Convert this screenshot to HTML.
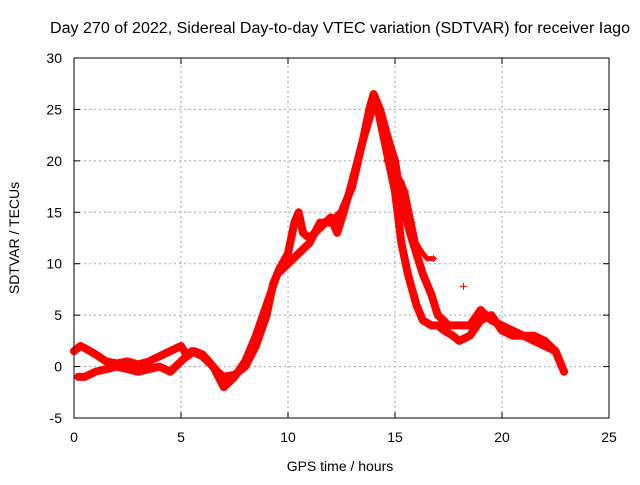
<!DOCTYPE html>
<html><head><meta charset="utf-8"><style>
body{margin:0;background:#fff;}
svg text{font-family:"Liberation Sans",sans-serif;font-size:14px;fill:#000;}
</style></head><body>
<svg id="chart" width="640" height="480" xmlns="http://www.w3.org/2000/svg">
<rect width="640" height="480" fill="#fff"/>
<text x="340" y="33" text-anchor="middle" textLength="580" lengthAdjust="spacingAndGlyphs" style="font-size:15.5px">Day 270 of 2022, Sidereal Day-to-day VTEC variation (SDTVAR) for receiver Iago</text>
<text x="340" y="471" text-anchor="middle">GPS time / hours</text>
<text transform="translate(19,238) rotate(-90)" text-anchor="middle">SDTVAR / TECUs</text>
<g id="grid"></g><g id="ticks"></g><g id="marks"></g>
<rect x="74" y="58" width="535" height="360" fill="none" stroke="#000" stroke-width="1"/>
</svg>
<script>
const xTicks=[0,5,10,15,20,25];
const yTicks=[-5,0,5,10,15,20,25,30];
const trackAX=[0,0.3,0.5,1,1.5,2,2.5,3,3.5,4,4.5,5,5.3,5.6,6,6.3,6.7,7,7.5,8,8.5,9,9.3,9.6,10,10.3,10.5,10.7,11,11.5,12,12.3,12.6,13,13.5,14,14.2,14.5,15,15.3,15.6,16,16.3,16.7,17,17.3,17.7,18,18.5,19,19.5,20,20.5,21,21.5,22,22.5,22.8];
const trackAY=[1.5,2,1.8,1.2,0.5,0.3,0.5,0.2,0.5,1,1.5,2,1,1.5,1.2,0.5,-0.5,-1,-0.8,0,2,5,8,9.5,11,14,15,13,12.5,13.5,14.5,13,15,18,22,25.5,25,22,17,12,9,6,4.5,4,4,3.5,3,2.5,3,4.5,5,3.5,3,3,2.5,2,1.5,0];
const trackBX=[0.2,0.5,1,2,3,4,4.5,5,5.5,6,6.5,7,7.5,8,8.5,9,9.5,10,10.5,11,11.5,12,12.5,13,13.5,13.8,14,14.3,14.7,15,15.3,15.7,16,16.3,16.7,17,17.5,18,18.5,19,19.5,20,20.5,21,21.5,22,22.5,22.9];
const trackBY=[-1,-1,-0.5,0,-0.5,0,-0.5,0.5,1.5,1,0,-2,-1,0.5,3,6,9,10,11,12,14,14,15,17.5,22,25,26.5,25,22,20,16,13,11,9,7,5,4,4,4,5.5,4.5,4,3.5,3,3,2.5,1.5,-0.5];
const trackCX=[14.6,15,15.3,15.5,15.8,16,16.3,16.5,16.8];
const trackCY=[20,19,18,17,14,12,11,10.5,10.5];
const isoX=[18.2];
const isoY=[7.8];
const X0=74,X1=609,Y0=418,Y1=58,XMIN=0,XMAX=25,YMIN=-5,YMAX=30;
function sx(v){return X0+(v-XMIN)/(XMAX-XMIN)*(X1-X0);}
function sy(v){return Y0-(v-YMIN)/(YMAX-YMIN)*(Y0-Y1);}
const NS="http://www.w3.org/2000/svg";
function mk(t,a,p){const e=document.createElementNS(NS,t);for(const k in a)e.setAttribute(k,a[k]);p.appendChild(e);return e;}
const grid=document.getElementById('grid'),ticks=document.getElementById('ticks'),marks=document.getElementById('marks');
xTicks.forEach(v=>{const x=sx(v);
 if(v>XMIN&&v<XMAX){const g=mk('line',{x1:x,x2:x,y1:Y0,y2:Y1,stroke:'#a0a0a0','stroke-dasharray':'2,3'},grid);
 
 }
 const t=mk('text',{x:x,y:Y0+24,'text-anchor':'middle'},ticks);t.textContent=v;
 
 
 mk('line',{x1:x,x2:x,y1:Y0,y2:Y0-6,stroke:'#000'},ticks);mk('line',{x1:x,x2:x,y1:Y1,y2:Y1+6,stroke:'#000'},ticks);});
yTicks.forEach(v=>{const y=sy(v);
 if(v>YMIN&&v<YMAX){const g=mk('line',{x1:X0,x2:X1,y1:y,y2:y,stroke:'#a0a0a0','stroke-dasharray':'2,3'},grid);
 
 }
 const t=mk('text',{x:X0-12,y:y+5,'text-anchor':'end'},ticks);t.textContent=v;
 
 
 mk('line',{x1:X0,x2:X0+6,y1:y,y2:y,stroke:'#000'},ticks);mk('line',{x1:X1,x2:X1-6,y1:y,y2:y,stroke:'#000'},ticks);});
function track(xs,ys,name,w){
 const pts=xs.map((x,i)=>sx(x)+','+sy(ys[i])).join(' ');
 const pl=mk('polyline',{points:pts,fill:'none',stroke:'#f00','stroke-width':w,'stroke-linejoin':'round','stroke-linecap':'round'},marks);
 
 
 xs.forEach((x,i)=>{const p=mk('path',{d:`M${sx(x)-3.5},${sy(ys[i])}h7M${sx(x)},${sy(ys[i])-3.5}v7`,stroke:'#f00','stroke-width':1},marks);
 
 });
}
track(trackAX,trackAY,'series-track-a',8);
track(trackBX,trackBY,'series-track-b',8);
track(trackCX,trackCY,'series-track-c',5);
track(isoX,isoY,'isolated-point',0);
</script>
</body></html>
